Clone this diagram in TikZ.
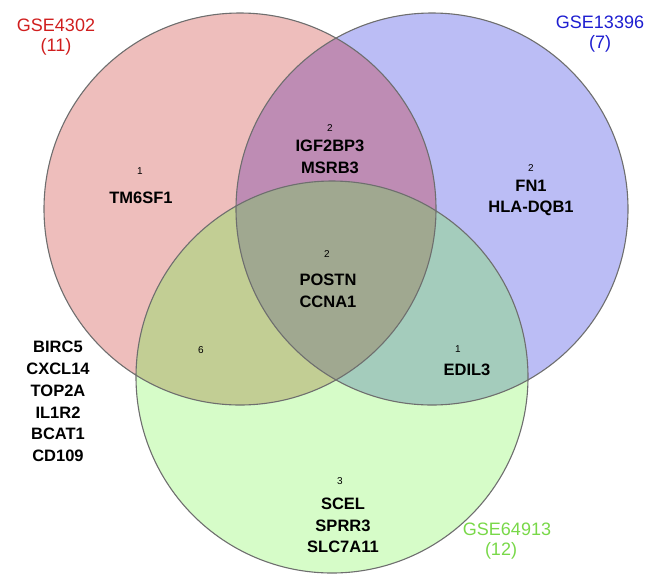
\documentclass[tikz,border=0pt]{standalone}
\usepackage{fontspec}
\setmainfont{Liberation Sans}
\definecolor{redf}{HTML}{EEBEBC}
\definecolor{bluef}{HTML}{BBBDF5}
\definecolor{greenf}{HTML}{D6FCC8}
\definecolor{rbf}{HTML}{BE8CB4}
\definecolor{rgf}{HTML}{C2CE94}
\definecolor{bgf}{HTML}{A4CCBC}
\definecolor{allf}{HTML}{A0A890}
\definecolor{lblred}{HTML}{D01E1E}
\definecolor{lblblue}{HTML}{1E1ED0}
\definecolor{lblgreen}{HTML}{78D848}
\definecolor{ringc}{HTML}{6E6E6E}
\begin{document}
\begin{tikzpicture}[x=1pt,y=-1pt,
  gene/.style={font=\bfseries\fontsize{16.5}{21.8}\selectfont, align=center, inner sep=0pt},
  cnt/.style={font=\fontsize{10}{11}\selectfont, inner sep=0pt},
  setlbl/.style={font=\fontsize{18}{20.5}\selectfont, align=center, inner sep=0pt},
  ring/.style={draw=ringc, line width=1.1pt}]
\useasboundingbox (0,0) rectangle (648,574);
\coordinate (cr) at (240,209);
\coordinate (cb) at (432,209);
\coordinate (cg) at (332,377);
% base fills
\fill[redf] (cr) circle[radius=196pt];
\fill[bluef] (cb) circle[radius=196pt];
\fill[greenf] (cg) circle[radius=196pt];
% pairwise overlaps
\begin{scope}
  \clip (cr) circle[radius=196pt];
  \fill[rbf] (cb) circle[radius=196pt];
  \fill[rgf] (cg) circle[radius=196pt];
\end{scope}
\begin{scope}
  \clip (cb) circle[radius=196pt];
  \fill[bgf] (cg) circle[radius=196pt];
\end{scope}
\begin{scope}
  \clip (cr) circle[radius=196pt];
  \clip (cb) circle[radius=196pt];
  \fill[allf] (cg) circle[radius=196pt];
\end{scope}
% outlines
\draw[ring] (cr) circle[radius=196pt];
\draw[ring] (cb) circle[radius=196pt];
\draw[ring] (cg) circle[radius=196pt];
% set labels
\node[setlbl, text=lblred] (lr) at (56,37) {GSE4302\\(11)};
\node[setlbl, text=lblblue] (lb) at (600,34) {GSE13396\\(7)};
\node[setlbl, text=lblgreen] (lg) at (507,541) {GSE64913\\(12)\hspace*{12pt}};
% counts
\node[cnt] (n1) at (140,171) {1};
\node[cnt] (n2) at (330,128) {2};
\node[cnt] (n3) at (531,168) {2};
\node[cnt] (n4) at (327,254) {2};
\node[cnt] (n5) at (201,350) {6};
\node[cnt] (n6) at (458,349) {1};
\node[cnt] (n7) at (340,481) {3};
% genes
\node[gene] (g1) at (141,198) {TM6SF1};
\node[gene] (g2) at (330,157) {IGF2BP3\\MSRB3};
\node[gene] (g3) at (531,198) {FN1\\HLA-DQB1};
\node[gene] (g4) at (328,291) {POSTN\\CCNA1};
\node[gene] (g5) at (467,370) {EDIL3};
\node[gene] (g6) at (343,525.5) {SCEL\\SPRR3\\SLC7A11};
\node[gene] (g7) at (58,401.5) {BIRC5\\CXCL14\\TOP2A\\IL1R2\\BCAT1\\CD109};
\end{tikzpicture}
\end{document}
